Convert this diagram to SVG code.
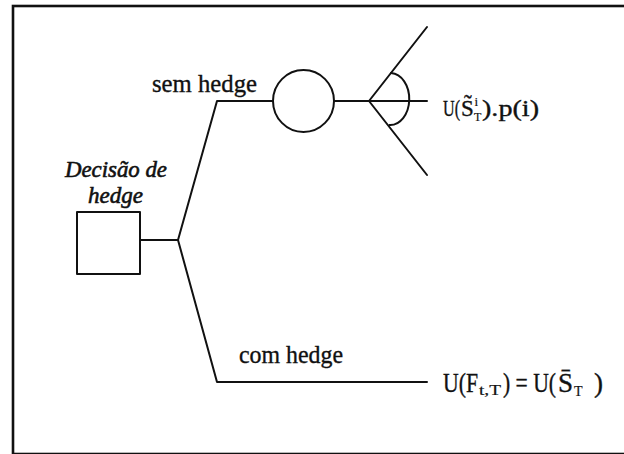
<svg xmlns="http://www.w3.org/2000/svg" width="624" height="454" viewBox="0 0 624 454">
<style>
.ln{fill:none;stroke:#111;stroke-width:2;stroke-linecap:round;stroke-linejoin:round}
.fr{fill:none;stroke:#111;stroke-width:2.6}
.t{font-family:"Liberation Serif","Times New Roman",serif;fill:#111;stroke:#111;stroke-width:0.35}
.lab{font-size:25px}
.it{font-size:23px;font-style:italic;stroke-width:0.6}
.f1{font-size:23px}
.f2{font-size:27px}
.sm{stroke-width:0.2}
</style>
<rect width="624" height="454" fill="#fff"/>
<rect class="fr" x="13" y="6" width="620" height="448"/>
<g id="connectors">
  <path class="ln" d="M140 240 H178"/>
  <path class="ln" d="M178 240 L217 101 H273"/>
  <path class="ln" d="M178 240 L217 382 H427"/>
  <path class="ln" d="M334 101 H427"/>
  <path class="ln" d="M369 101 L427 27"/>
  <path class="ln" d="M369 101 L427 175"/>
  <path class="ln" d="M391 73 A19 26 0 0 1 389.5 125"/>
</g>
<g id="decision">
  <rect class="ln" x="77" y="212" width="63" height="62"/>
  <text class="t it" x="65" y="177" textLength="102" lengthAdjust="spacingAndGlyphs">Decisão de</text>
  <text class="t it" x="88" y="203" textLength="55" lengthAdjust="spacingAndGlyphs">hedge</text>
</g>
<g id="chance">
  <ellipse class="ln" cx="303.5" cy="101" rx="30.5" ry="31"/>
</g>
<g id="label-sem">
  <text class="t lab" x="152" y="92" textLength="105" lengthAdjust="spacingAndGlyphs">sem hedge</text>
</g>
<g id="label-com">
  <text class="t lab" x="239" y="363" textLength="104" lengthAdjust="spacingAndGlyphs">com hedge</text>
</g>
<g id="outcome-sem">
  <text class="t f1" x="443" y="116" textLength="17" lengthAdjust="spacingAndGlyphs">U(</text>
  <text class="t f1" x="461" y="116">S&#x303;</text>
  <text class="t sm" x="474.5" y="106" font-size="13">i</text>
  <text class="t sm" x="474" y="121" font-size="12">T</text>
  <text class="t f1" x="482" y="116" textLength="57" lengthAdjust="spacingAndGlyphs">).p(i)</text>
</g>
<g id="outcome-com">
  <text class="t f2" x="443" y="392" textLength="35" lengthAdjust="spacingAndGlyphs">U(F</text>
  <text class="t sm" x="479" y="395" font-size="14" textLength="22" lengthAdjust="spacingAndGlyphs">t,T</text>
  <text class="t f2" x="503" y="392" textLength="53" lengthAdjust="spacingAndGlyphs">) = U(</text>
  <text class="t f2" x="558" y="392">S&#x304;</text>
  <text class="t sm" x="574" y="396" font-size="14">T</text>
  <text class="t f2" x="594" y="392">)</text>
</g>
</svg>
